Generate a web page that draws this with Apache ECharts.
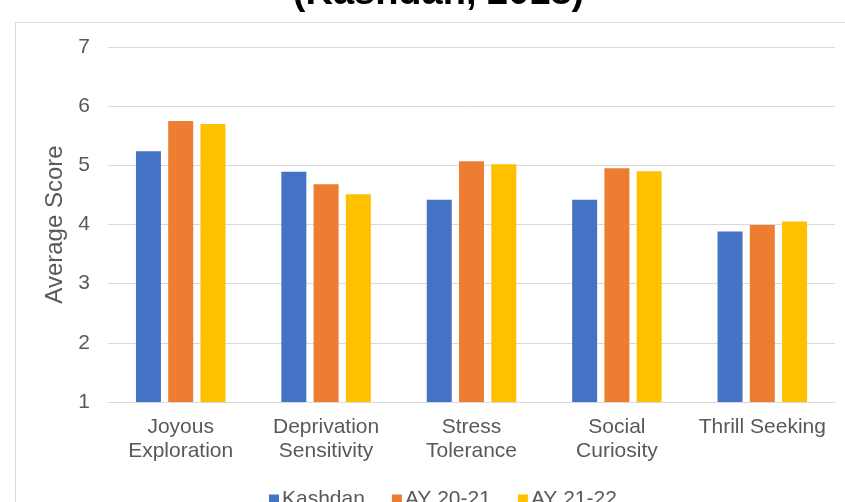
<!DOCTYPE html>
<html>
<head>
<meta charset="utf-8">
<script src="https://cdn.jsdelivr.net/npm/echarts@6/dist/echarts.min.js"></script>
<style>
  html, body { margin: 0; padding: 0; background: #ffffff; }
  #chart { width: 845px; height: 502px; }
</style>
</head>
<body>
<div id="chart"></div>
<script>
// Curiosity dimensions (five-dimensional curiosity scale)
var categories = ['Joyous\nExploration', 'Deprivation\nSensitivity', 'Stress\nTolerance', 'Social\nCuriosity', 'Thrill Seeking'];
var seriesNames = ['Kashdan', 'AY 20-21', 'AY 21-22'];
var kashdan = [5.24, 4.89, 4.42, 4.42, 3.88];
var ay2021 = [5.75, 4.68, 5.07, 4.95, 3.99];
var ay2122 = [5.70, 4.51, 5.02, 4.90, 4.05];
var yTicks = [1, 7, 1]; // min, max, step
var titleText = '(Kashdan, 2018)';
var yAxisTitle = 'Average Score';

var colors = ['#4472C4', '#ED7D31', '#FFC000'];
var fontFamily = '"Liberation Sans", Arial, sans-serif';
var textColor = '#595959';

var chart = echarts.init(document.getElementById('chart'), null, { renderer: 'canvas' });

function barSeries(name, data, color) {
  return {
    name: name,
    type: 'bar',
    data: data,
    barWidth: 25,
    barGap: '29%',
    itemStyle: { color: color },
    emphasis: { disabled: true }
  };
}

chart.setOption({
  animation: false,
  textStyle: { fontFamily: fontFamily },
  graphic: [
    {
      type: 'rect',
      z: -10,
      shape: { x: 15.5, y: 22.5, width: 900, height: 600 },
      style: { fill: 'none', stroke: '#d9d9d9', lineWidth: 1 }
    },
    {
      type: 'text',
      x: 438.5,
      y: -6,
      style: {
        text: titleText,
        font: 'bold 38px ' + fontFamily,
        fill: '#000000',
        align: 'center',
        verticalAlign: 'middle'
      }
    }
  ],
  legend: {
    data: seriesNames,
    left: 264,
    top: 484,
    itemWidth: 10,
    itemHeight: 10,
    itemGap: 27,
    icon: 'rect',
    textStyle: { fontSize: 21, color: textColor, fontFamily: fontFamily, padding: [0, 0, 0, -2] }
  },
  grid: { left: 108, right: 10, top: 47, bottom: 100 },
  xAxis: {
    type: 'category',
    data: categories,
    axisLine: { lineStyle: { color: '#d9d9d9', width: 1 } },
    axisTick: { show: false },
    axisLabel: { fontSize: 21, color: textColor, lineHeight: 24, margin: 13, interval: 0 }
  },
  yAxis: {
    type: 'value',
    min: yTicks[0],
    max: yTicks[1],
    interval: yTicks[2],
    name: yAxisTitle,
    nameLocation: 'middle',
    nameGap: 38,
    nameTextStyle: { fontSize: 24, color: textColor },
    axisLine: { show: false },
    axisTick: { show: false },
    axisLabel: { fontSize: 21, color: textColor, margin: 18 },
    splitLine: { lineStyle: { color: '#d9d9d9', width: 1 } }
  },
  series: [
    barSeries(seriesNames[0], kashdan, colors[0]),
    barSeries(seriesNames[1], ay2021, colors[1]),
    barSeries(seriesNames[2], ay2122, colors[2])
  ]
});
</script>
</body>
</html>
